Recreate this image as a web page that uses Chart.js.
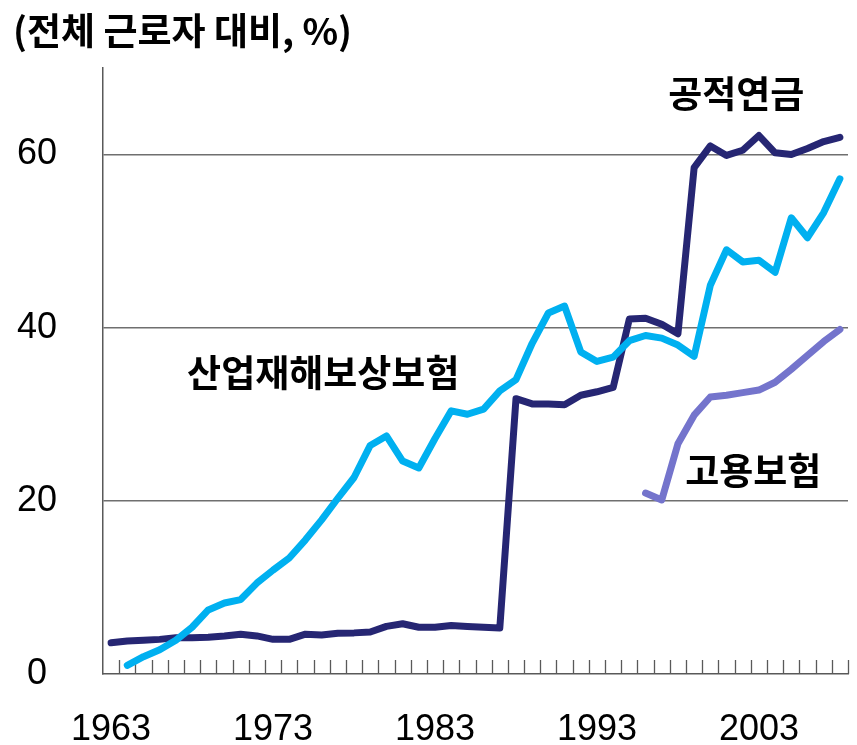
<!DOCTYPE html>
<html>
<head>
<meta charset="utf-8">
<script src="https://cdn.jsdelivr.net/npm/chart.js@4.4.1/dist/chart.umd.min.js"></script>
<style>
  html, body { margin: 0; padding: 0; background: #fff; }
  #wrap { width: 857px; height: 745px; }
</style>
</head>
<body>
<div id="wrap"><canvas id="canvas"></canvas></div>
<script>
const years = [
    "1963", "1964", "1965", "1966", "1967", "1968", "1969", "1970", "1971", "1972",
    "1973", "1974", "1975", "1976", "1977", "1978", "1979", "1980", "1981", "1982",
    "1983", "1984", "1985", "1986", "1987", "1988", "1989", "1990", "1991", "1992",
    "1993", "1994", "1995", "1996", "1997", "1998", "1999", "2000", "2001", "2002",
    "2003", "2004", "2005", "2006", "2007", "2008",
];

// 공적연금
const pension = [
    3.6, 3.8, 3.9, 4.0, 4.2, 4.2, 4.25, 4.4, 4.6, 4.4,
    4.0, 4.0, 4.6, 4.5, 4.7, 4.75, 4.85, 5.5, 5.8, 5.4,
    5.4, 5.6, 5.5, 5.4, 5.3, 31.8, 31.2, 31.2, 31.1, 32.2,
    32.6, 33.1, 41.0, 41.1, 40.4, 39.3, 58.5, 61.0, 59.9, 60.5,
    62.2, 60.2, 60.0, 60.7, 61.5, 62.0,
];

// 산업재해보상보험
const accident = [
    null, 1.0, 2.0, 2.8, 3.9, 5.4, 7.4, 8.2, 8.6, 10.5,
    12.0, 13.4, 15.5, 17.8, 20.3, 22.7, 26.4, 27.5, 24.6, 23.8,
    27.2, 30.4, 30.0, 30.6, 32.7, 34.0, 38.2, 41.7, 42.5, 37.2,
    36.1, 36.6, 38.5, 39.1, 38.8, 38.0, 36.7, 44.9, 49.0, 47.6,
    47.8, 46.4, 52.7, 50.4, 53.3, 57.2,
];

// 고용보험
const employment = [
    null, null, null, null, null, null, null, null, null, null,
    null, null, null, null, null, null, null, null, null, null,
    null, null, null, null, null, null, null, null, null, null,
    null, null, null, 20.9, 20.1, 26.6, 29.9, 32.0, 32.2, 32.5,
    32.8, 33.7, 35.2, 36.8, 38.4, 39.8,
];

const yTicks = [0, 20, 40, 60];
const yMax = 70;

// 선 옆에 붙는 이름 (x는 카테고리 인덱스, y는 값)
const seriesNames = [
    { text: "공적연금", at: 38.6, value: 67.0 },
    { text: "산업재해보상보험", at: 13.1, value: 34.8 },
    { text: "고용보험", at: 39.65, value: 23.4 },
];

const unitTitle = "(전체 근로자 대비, %)";

const korFont = "bold 37px 'Noto Sans CJK KR'";

// 축 안쪽 눈금 + 글자들
const extras = {
    id: "extras",
    beforeDatasetsDraw(chart) {
        const {ctx, chartArea} = chart;
        const x = chart.scales.x;
        const n = x.ticks.length;
        const w = x.width / n;
        ctx.save();
        ctx.strokeStyle = "#595959";
        ctx.lineWidth = 1.3;
        ctx.beginPath();
        for (let i = 1; i <= n; i++) {
            const px = Math.round(x.left + i * w) + 0.5;
            ctx.moveTo(px, chartArea.bottom);
            ctx.lineTo(px, chartArea.bottom - 14);
        }
        ctx.stroke();
        ctx.restore();
    },
    afterDraw(chart) {
        const {ctx} = chart;
        const x = chart.scales.x;
        const y = chart.scales.y;
        ctx.save();
        ctx.fillStyle = "#000";
        ctx.font = korFont;
        ctx.textAlign = "center";
        ctx.textBaseline = "middle";
        seriesNames.forEach(s => {
            ctx.fillText(s.text, x.getPixelForValue(s.at), y.getPixelForValue(s.value));
        });
        ctx.textAlign = "left";
        ctx.fillText(unitTitle, 13, 31);
        ctx.restore();
    },
};

new Chart(document.getElementById("canvas"), {
    type: "line",
    data: {
        labels: years,
        datasets: [
            {
                label: "공적연금",
                data: pension,
                borderColor: "#262673",
                order: 2,
            },
            {
                label: "산업재해보상보험",
                data: accident,
                borderColor: "#00b0f0",
                order: 1,
            },
            {
                label: "고용보험",
                data: employment,
                borderColor: "#7474cc",
                order: 3,
            },
        ],
    },
    options: {
        responsive: true,
        maintainAspectRatio: false,
        animation: false,
        datasets: {
            line: {
                borderWidth: 7,
                pointRadius: 0,
                tension: 0,
                borderCapStyle: "round",
                borderJoinStyle: "round",
                spanGaps: false,
            },
        },
        plugins: {
            legend: {display: false},
            tooltip: {enabled: false},
        },
        layout: {
            padding: {left: 0, right: 9, top: 68, bottom: 0},
        },
        scales: {
            x: {
                offset: true,
                grid: {display: false, offset: true},
                border: {display: true, color: "#595959", width: 1.5},
                afterFit: s => {
                    s.height = 71;
                    s.paddingLeft = 0;
                    s.paddingRight = 0;
                },
                ticks: {
                    autoSkip: false,
                    maxRotation: 0,
                    padding: 26,
                    color: "#000",
                    font: {family: "'Liberation Sans'", size: 36},
                    callback(v, i) {
                        return (i % 10 === 0) ? years[i] : "";
                    },
                },
            },
            y: {
                min: 0,
                max: yMax,
                afterFit: s => { s.width = 103; },
                afterBuildTicks: s => { s.ticks = yTicks.map(v => ({value: v})); },
                border: {display: true, color: "#595959", width: 1.5},
                grid: {
                    drawTicks: false,
                    lineWidth: 1.5,
                    color: c => (c.tick && c.tick.value === 0) ? "rgba(0,0,0,0)" : "#6f6f6f",
                },
                ticks: {
                    padding: 46,
                    crossAlign: "center",
                    color: "#000",
                    font: {family: "'Liberation Sans'", size: 36},
                },
            },
        },
    },
    plugins: [extras],
});
</script>
</body>
</html>
